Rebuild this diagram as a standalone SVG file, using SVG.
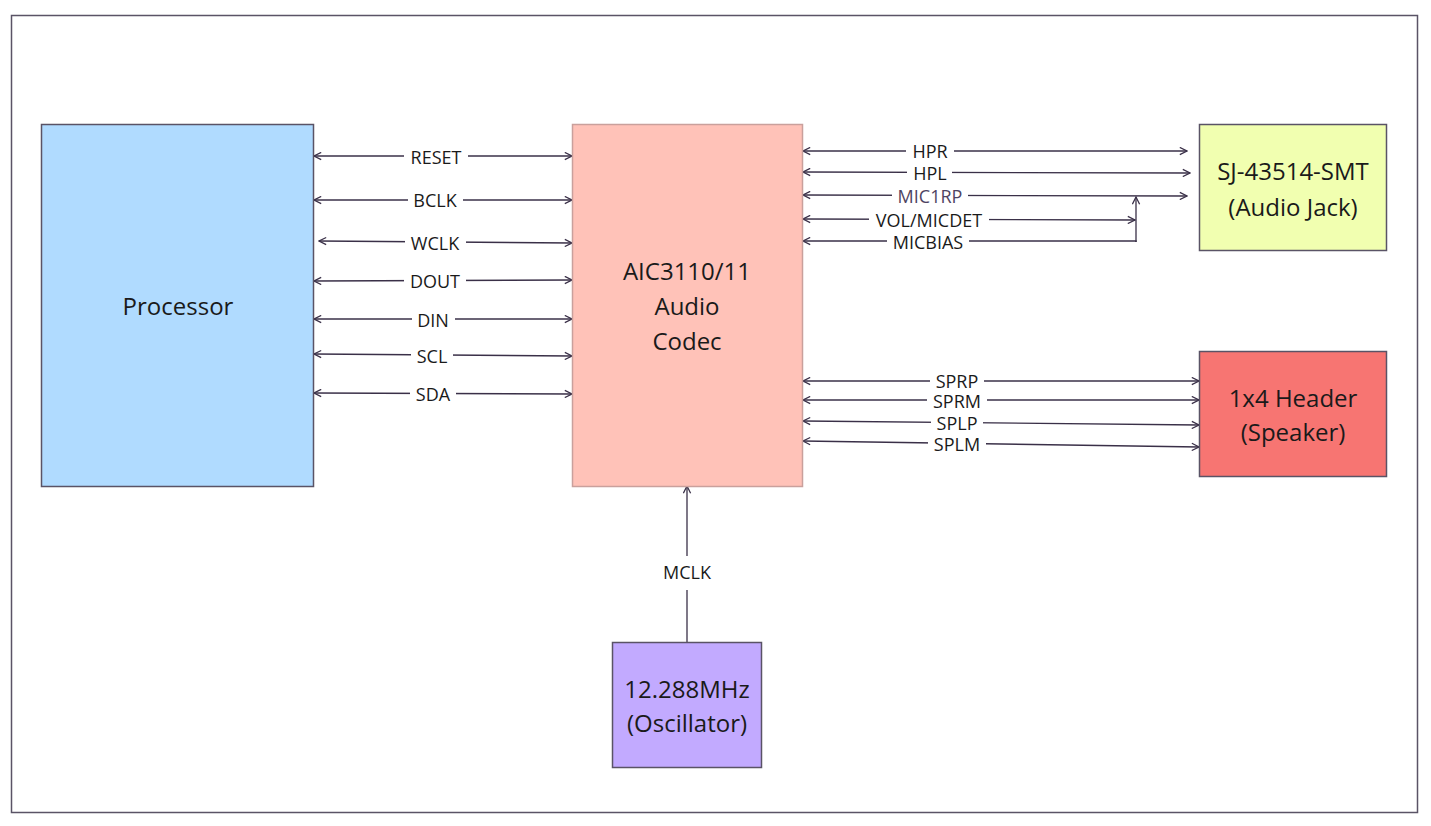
<svg xmlns="http://www.w3.org/2000/svg" width="1431" height="826" viewBox="0 0 1431 826">
<defs>
<marker id="a" viewBox="0 0 10 10" refX="9" refY="5" markerWidth="9" markerHeight="9" markerUnits="userSpaceOnUse" orient="auto-start-reverse">
<path d="M1,1 L9,5 L1,9" fill="none" stroke="#3a3048" stroke-width="1.4"/>
</marker>
<style>
.n{stroke:#5a5366;stroke-width:1.5}
.t{font-family:"Open Sans","Noto Sans",sans-serif;font-size:24px;fill:#1a1a1a;text-anchor:middle}
.l{font-family:"Open Sans","Noto Sans",sans-serif;font-size:18px;fill:#1a1a1a;text-anchor:middle}
.c{fill:none;stroke:#3a3048;stroke-width:1.3}
.b{marker-start:url(#a);marker-end:url(#a)}
.bg{fill:#fff}
</style>
</defs>
<rect width="1431" height="826" fill="#fff"/>
<rect x="11.5" y="15.5" width="1406" height="797" fill="#fff" class="n"/>
<g id="connectors">
<path class="c b" d="M314,156 L572,156"/>
<path class="c b" d="M314,200 L572,200"/>
<path class="c b" d="M319,241 L572,243"/>
<path class="c b" d="M314,281 L572,280"/>
<path class="c b" d="M314,319 L572,319"/>
<path class="c b" d="M314,354 L572,356"/>
<path class="c b" d="M314,393 L572,394"/>
<path class="c b" d="M803,151 L1187,151"/>
<path class="c b" d="M803,172 L1190,173"/>
<path class="c b" d="M803,195 L1187,196"/>
<path class="c b" d="M803,219 L1135,220"/>
<path class="c" style="marker-start:url(#a)" d="M803,241 L1136,241 L1136,242"/>
<path class="c" style="marker-end:url(#a)" d="M1136,242 L1136,197"/>
<path class="c b" d="M803,381 L1199,381"/>
<path class="c b" d="M803,400 L1199,400"/>
<path class="c b" d="M803,421 L1199,425"/>
<path class="c b" d="M803,441 L1199,447"/>
<path class="c" style="marker-end:url(#a)" d="M687,642 L687,486"/>
<g class="bg">
<rect x="404" y="150" width="64" height="12"/>
<rect x="408" y="194" width="55" height="12"/>
<rect x="405" y="236" width="61" height="12"/>
<rect x="404" y="274" width="62" height="12"/>
<rect x="412" y="313" width="43" height="12"/>
<rect x="411" y="349" width="42" height="12"/>
<rect x="410" y="387" width="46" height="12"/>
<rect x="906" y="145" width="48" height="12"/>
<rect x="907" y="166" width="45" height="12"/>
<rect x="892" y="189" width="76" height="12"/>
<rect x="869" y="213" width="120" height="12"/>
<rect x="887" y="235" width="82" height="12"/>
<rect x="930" y="375" width="54" height="12"/>
<rect x="927" y="394" width="60" height="12"/>
<rect x="931" y="417" width="52" height="12"/>
<rect x="928" y="438" width="58" height="12"/>
<rect x="657" y="556" width="60" height="34"/>
</g>
<text class="l" x="436" y="164">RESET</text>
<text class="l" x="435" y="207">BCLK</text>
<text class="l" x="435" y="250">WCLK</text>
<text class="l" x="435" y="288">DOUT</text>
<text class="l" x="433" y="327">DIN</text>
<text class="l" x="432" y="363">SCL</text>
<text class="l" x="433" y="401">SDA</text>
<text class="l" x="930" y="158">HPR</text>
<text class="l" x="930" y="180">HPL</text>
<text class="l" x="930" y="203" style="fill:#4e4462">MIC1RP</text>
<text class="l" x="929" y="227">VOL/MICDET</text>
<text class="l" x="928" y="249">MICBIAS</text>
<text class="l" x="957" y="388">SPRP</text>
<text class="l" x="957" y="408">SPRM</text>
<text class="l" x="957" y="430">SPLP</text>
<text class="l" x="957" y="451">SPLM</text>
<text class="l" x="687" y="579">MCLK</text>
</g>
<g id="processor">
<rect x="41.5" y="124.5" width="272" height="362" fill="#b0dbff" class="n"/>
<text class="t" x="178" y="315">Processor</text>
</g>
<g id="codec">
<rect x="572.5" y="124.5" width="230" height="362" fill="#ffc2b8" stroke="#c9a09c" stroke-width="1.5"/>
<text class="t" x="687" y="280">AIC3110/11</text>
<text class="t" x="687" y="315">Audio</text>
<text class="t" x="687" y="350">Codec</text>
</g>
<g id="jack">
<rect x="1199.5" y="124.5" width="187" height="126" fill="#f1ffb0" class="n"/>
<text class="t" x="1293" y="180">SJ-43514-SMT</text>
<text class="t" x="1293" y="216">(Audio Jack)</text>
</g>
<g id="header">
<rect x="1199.5" y="351.5" width="187" height="125" fill="#f77572" class="n"/>
<text class="t" x="1293" y="407">1x4 Header</text>
<text class="t" x="1293" y="441">(Speaker)</text>
</g>
<g id="oscillator">
<rect x="612.5" y="642.5" width="149" height="125" fill="#c2aaff" class="n"/>
<text class="t" x="687" y="698">12.288MHz</text>
<text class="t" x="687" y="732">(Oscillator)</text>
</g>
</svg>
